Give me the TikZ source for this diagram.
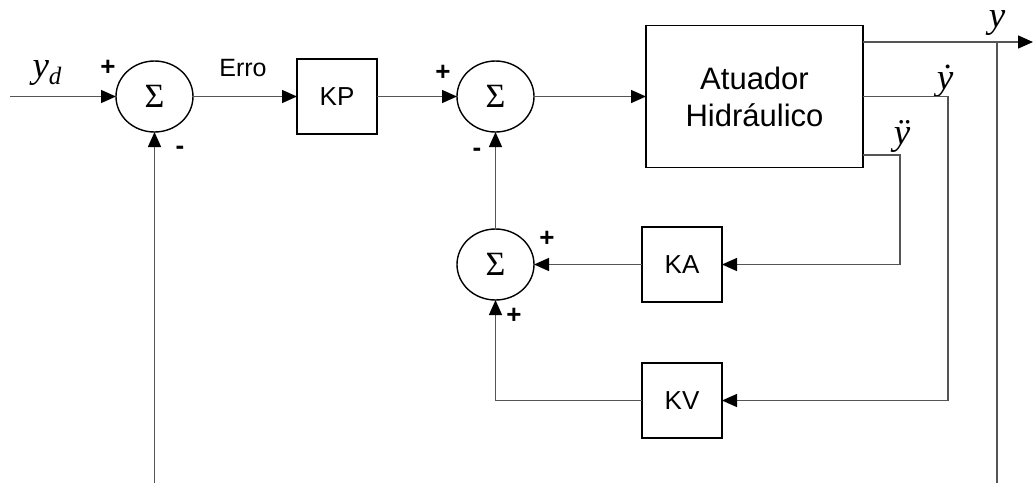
\documentclass[tikz,border=0pt]{standalone}
\usepackage{fontspec}
\setmainfont{Liberation Sans}
\newfontfamily\serifa{Liberation Serif}
\usetikzlibrary{arrows.meta,positioning,shapes.geometric}
\definecolor{LineGray}{HTML}{555555}

\begin{document}
\begin{tikzpicture}[
x=1pt,y=-1pt,
soma/.style={draw,ellipse,line width=1.4pt,minimum width=77pt,minimum height=71pt,inner sep=0pt,outer sep=0pt,font=\serifa\fontsize{34}{34}\selectfont},
bloco/.style={draw,line width=1.4pt,minimum width=80pt,minimum height=75pt,outer sep=0pt,font=\fontsize{26}{26}\selectfont},
sinal/.style={font=\bfseries\fontsize{26}{26}\selectfont,inner sep=0pt},
rotulo/.style={font=\serifa\itshape\fontsize{37}{37}\selectfont,inner sep=0pt},
arr/.style={-{Triangle[length=15pt,width=13pt,color=black]},line width=1.4pt,LineGray},
lin/.style={line width=1.4pt,LineGray}
]
\useasboundingbox (0,0) rectangle (1033,483);
% blocos principais
\node[soma] (soma1) at (154.5,96.5) {Σ};
\node[bloco,right=104pt of soma1] (kp) {KP};
\node[soma,right=80pt of kp] (soma2) {Σ};
\node[draw,line width=1.4pt,outer sep=0pt,minimum width=217pt,minimum height=142pt,align=center,font=\fontsize{31}{37}\selectfont,right=112pt of soma2] (atuador) {Atuador\\Hidráulico};
\node[soma,below=97pt of soma2] (soma3) {Σ};
\node[bloco,right=108pt of soma3] (ka) {KA};
\node[bloco,below=61pt of ka] (kv) {KV};
% pontos livres
\coordinate (entrada) at (10,96.5);
\coordinate (saida) at (1033,42);
\coordinate (ramo) at (997,42);
\coordinate (fimdir) at (997,483);
\coordinate (fimesq) at (154.5,483);
\coordinate (dy) at (948,96.5);
\coordinate (ddy) at (900,155);
% rotulos
\node[rotulo] (yd) at (47,73) {y\raisebox{-7pt}{\fontsize{25}{25}\selectfont d}};
\node[font=\fontsize{25}{25}\selectfont,inner sep=0pt] (erro) at (243,68) {Erro};
\node[rotulo] (ysai) at (997,23) {y};
\node[rotulo] (ydot) at (945,81) {ẏ};
\node[rotulo] (yddot) at (902,136) {ÿ};
\node[sinal] (p1) at (108,68) {+};
\node[sinal] (m1) at (180,150) {-};
\node[sinal] (p2) at (443,73) {+};
\node[sinal] (m2) at (477,152) {-};
\node[sinal] (p3) at (547,239) {+};
\node[sinal] (p4) at (514,316) {+};
% ligacoes
\draw[arr] (entrada) -- (soma1);
\draw[arr] (soma1) -- (kp);
\draw[arr] (kp) -- (soma2);
\draw[arr] (soma2) -- (atuador);
\draw[arr] (atuador.east |- saida) -- (saida);
\draw[lin] (ramo) -- (fimdir);
\draw[arr] (atuador.east) -- (dy) |- (kv.east);
\draw[arr] (atuador.east |- ddy) -- (ddy) |- (ka.east);
\draw[arr] (ka) -- (soma3);
\draw[arr] (kv) -| (soma3);
\draw[arr] (soma3) -- (soma2);
\draw[arr] (fimesq) -- (soma1);
\end{tikzpicture}
\end{document}
